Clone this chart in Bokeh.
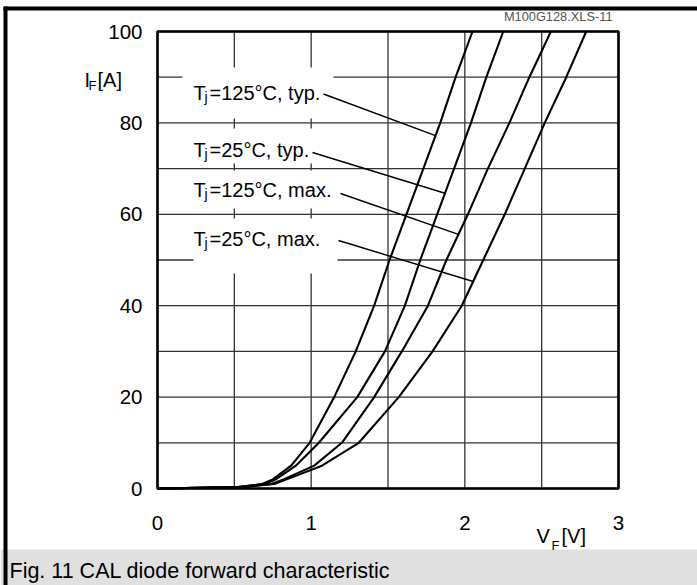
import numpy as np
from bokeh.plotting import figure
from bokeh.models import Range1d
from bokeh.core.properties import value
from bokeh.embed import file_html
from bokeh.resources import INLINE

# ---------------- data ----------------
current_A = [0, 0.3, 1, 2, 5, 10, 20, 30, 40, 50, 60, 70, 80, 90, 100]
vf_125_typ = [0, 0.52, 0.68, 0.75, 0.87, 0.99, 1.15, 1.29, 1.41, 1.51, 1.62, 1.73, 1.84, 1.94, 2.05]
vf_25_typ = [0, 0.52, 0.70, 0.77, 0.90, 1.05, 1.30, 1.48, 1.61, 1.71, 1.82, 1.93, 2.04, 2.14, 2.25]
vf_125_max = [0, 0.55, 0.74, 0.82, 1.02, 1.20, 1.41, 1.59, 1.76, 1.88, 2.02, 2.15, 2.29, 2.42, 2.56]
vf_25_max = [0, 0.55, 0.76, 0.84, 1.07, 1.31, 1.57, 1.79, 1.98, 2.12, 2.26, 2.39, 2.52, 2.66, 2.79]

series_text = ["=125°C, typ.", "=25°C, typ.", "=125°C, max.", "=25°C, max."]
leader_current = [77.2, 64.6, 55.6, 45.3]

x_ticks = [0, 1, 2, 3]
y_ticks = [0, 20, 40, 60, 80, 100]
x_grid = [0, 0.5, 1, 1.5, 2, 2.5, 3]
y_grid = [0, 10, 20, 30, 40, 50, 60, 70, 80, 90, 100]
x_min, x_max, y_min, y_max = 0, 3, 0, 100

caption = "Fig. 11 CAL diode forward characteristic"
file_tag = "M100G128.XLS-11"

# ---------------- layout (page pixels of the reference) ----------------
FONT = "Liberation Sans"
FW, FH = 697, 585
FX0, FX1, FY0, FY1 = 157.0, 618.0, 488.0, 31.0  # plot frame in page pixels
SX = (FX1 - FX0) / (x_max - x_min)  # px per volt
SY = (FY0 - FY1) / (y_max - y_min)  # px per ampere


def X(px):
    return x_min + (px - FX0) / SX


def Y(py):
    return y_min + (FY0 - py) / SY


def PY(a):
    return FY0 - (a - y_min) * SY


p = figure(width=FW, height=FH, x_range=Range1d(X(0), X(FW)), y_range=Range1d(Y(FH), Y(0)),
           output_backend="svg", toolbar_location=None, title=None, min_border=0,
           x_axis_location=None, y_axis_location=None)
p.outline_line_color = None
p.background_fill_color = "white"
p.border_fill_color = "white"
p.grid.visible = False

# page decorations: caption band and black rules
p.quad(left=[X(0)], right=[X(FW)], top=[Y(549)], bottom=[Y(FH + 5)],
       fill_color="#e0e0e0", line_color=None)
p.quad(left=[X(3), X(3)], right=[X(FW + 5), X(7)], top=[Y(6), Y(6)], bottom=[Y(10), Y(FH + 5)],
       fill_color="black", line_color=None)

# grid
GRID = dict(line_color="#333333", line_width=1.3)
p.segment(x0=x_grid, y0=[y_min] * len(x_grid), x1=x_grid, y1=[y_max] * len(x_grid), **GRID)
p.segment(x0=[x_min] * len(y_grid), y0=y_grid, x1=[x_max] * len(y_grid), y1=y_grid, **GRID)

# white label boxes interrupting the grid
box_px = [(182, 333, 67, 118), (185, 318, 128, 163), (185, 345, 170, 208), (193, 337, 218, 273)]
p.quad(left=[X(b[0]) for b in box_px], right=[X(b[1]) for b in box_px],
       top=[Y(b[2]) for b in box_px], bottom=[Y(b[3]) for b in box_px],
       fill_color="white", line_color=None)

# curves
curves = [vf_125_typ, vf_25_typ, vf_125_max, vf_25_max]
for v in curves:
    p.line(v, current_A, line_color="black", line_width=2.1, line_join="round")

# leader lines
start_px = [(323, 93.5), (312, 152), (340, 193), (338, 240)]
x1s = [float(np.interp(c, current_A, v)) for c, v in zip(leader_current, curves)]
p.segment(x0=[X(s[0]) for s in start_px], y0=[Y(s[1]) for s in start_px],
          x1=x1s, y1=leader_current, line_color="black", line_width=1.4)

# frame
p.quad(left=[x_min], right=[x_max], bottom=[y_min], top=[y_max],
       fill_color=None, line_color="black", line_width=2.6)


def txt(xs, ys_mid_px, texts, size, align="left", color="black"):
    # ys_mid_px: vertical centre of the capitals, in page pixels
    p.text(x=xs, y=[Y(v) for v in ys_mid_px], text=texts, text_font=value(FONT),
           text_font_size=value(size), text_align=align, text_baseline="middle",
           text_color=color)


# tick labels
txt(x_ticks, [522.5] * len(x_ticks), [str(t) for t in x_ticks], "20.5px", align="center")
txt([X(142)] * len(y_ticks), [PY(t) for t in y_ticks], [str(t) for t in y_ticks],
    "20.5px", align="right")

# series labels: T + subscript j + rest
cap_mid = [92.8, 149.8, 189.8, 238.8]
txt([X(193)] * 4, cap_mid, ["T"] * 4, "20px")
txt([X(204)] * 4, [c + 4 for c in cap_mid], ["j"] * 4, "14px")
txt([X(209)] * 4, cap_mid, series_text, "20px")

# axis titles
txt([X(84), X(97)], [79.8, 79.8], ["I", "[A]"], "20px")
txt([X(88)], [85.0], ["F"], "13px")
txt([X(536), X(561)], [535.8, 535.8], ["V", "[V]"], "20px")
txt([X(551)], [545.4], ["F"], "13px")

# file tag and caption
txt([X(612)], [15.6], [file_tag], "12.8px", align="right", color="#555555")
txt([X(9)], [570.3], [caption], "21.5px")

open("out.html", "w").write(file_html(p, INLINE))
